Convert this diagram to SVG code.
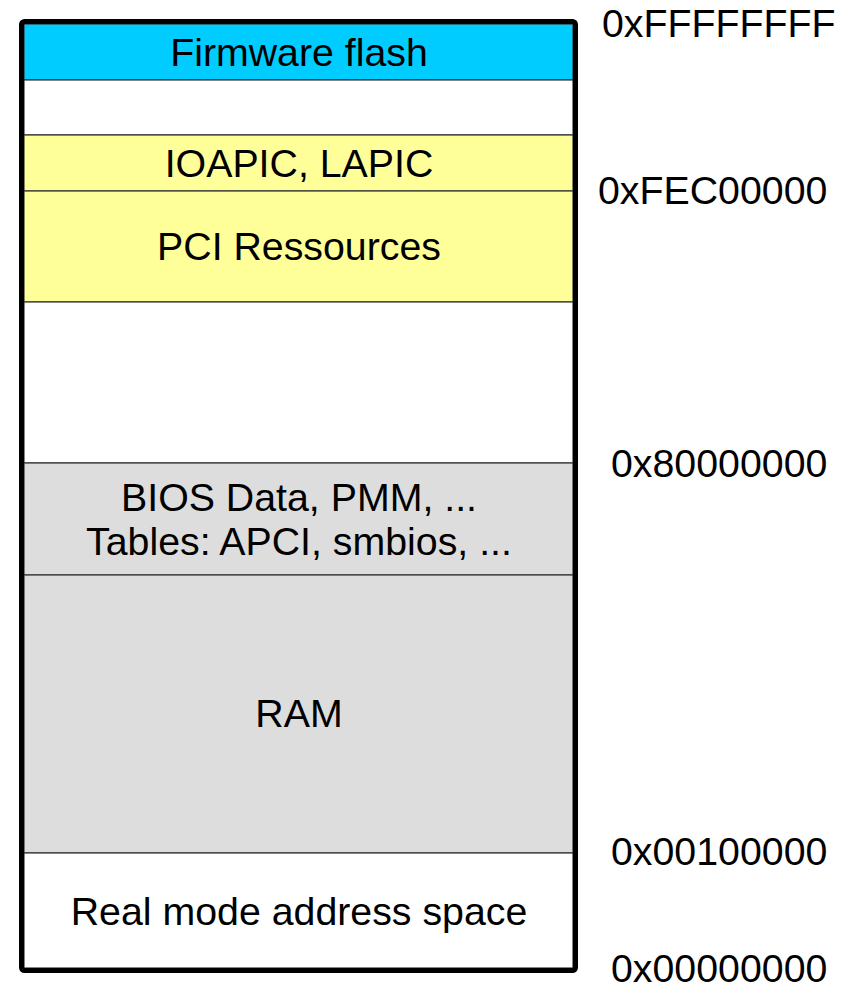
<svg xmlns="http://www.w3.org/2000/svg" width="851" height="985" viewBox="0 0 851 985">
<style>
text{font-family:"Liberation Sans",Arial,sans-serif;font-size:39.3px;fill:#000}
.c{text-anchor:middle}
.band{stroke:#333;stroke-width:1.2}
</style>
<rect x="0" y="0" width="851" height="985" fill="#fff"/>
<g id="firmware"><rect class="band" x="24" y="24" width="549" height="56" fill="#00CCFF"/><text class="c" x="299" y="66">Firmware flash</text></g>
<g id="gap1"><rect class="band" x="24" y="80" width="549" height="55" fill="#fff"/></g>
<g id="apic"><rect class="band" x="24" y="135" width="549" height="56" fill="#FFFF99"/><text class="c" x="299" y="177">IOAPIC, LAPIC</text></g>
<g id="pci"><rect class="band" x="24" y="191" width="549" height="111" fill="#FFFF99"/><text class="c" x="299" y="260">PCI Ressources</text></g>
<g id="gap2"><rect class="band" x="24" y="302" width="549" height="161" fill="#fff"/></g>
<g id="bios"><rect class="band" x="24" y="463" width="549" height="112" fill="#DDDDDD"/><text class="c" x="299" y="511">BIOS Data, PMM, ...</text><text class="c" x="299" y="555">Tables: APCI, smbios, ...</text></g>
<g id="ram"><rect class="band" x="24" y="575" width="549" height="278" fill="#DDDDDD"/><text class="c" x="299" y="727">RAM</text></g>
<g id="realmode"><rect class="band" x="24" y="853" width="549" height="115" fill="#fff"/><text class="c" x="299" y="925">Real mode address space</text></g>
<g id="frame"><rect x="21.5" y="21.5" width="554" height="949" rx="3" fill="none" stroke="#000" stroke-width="5"/></g>
<g id="addresses">
<text x="602" y="37">0xFFFFFFFF</text>
<text x="598" y="204">0xFEC00000</text>
<text x="611" y="477">0x80000000</text>
<text x="611" y="865">0x00100000</text>
<text x="611" y="982">0x00000000</text>
</g>
</svg>
